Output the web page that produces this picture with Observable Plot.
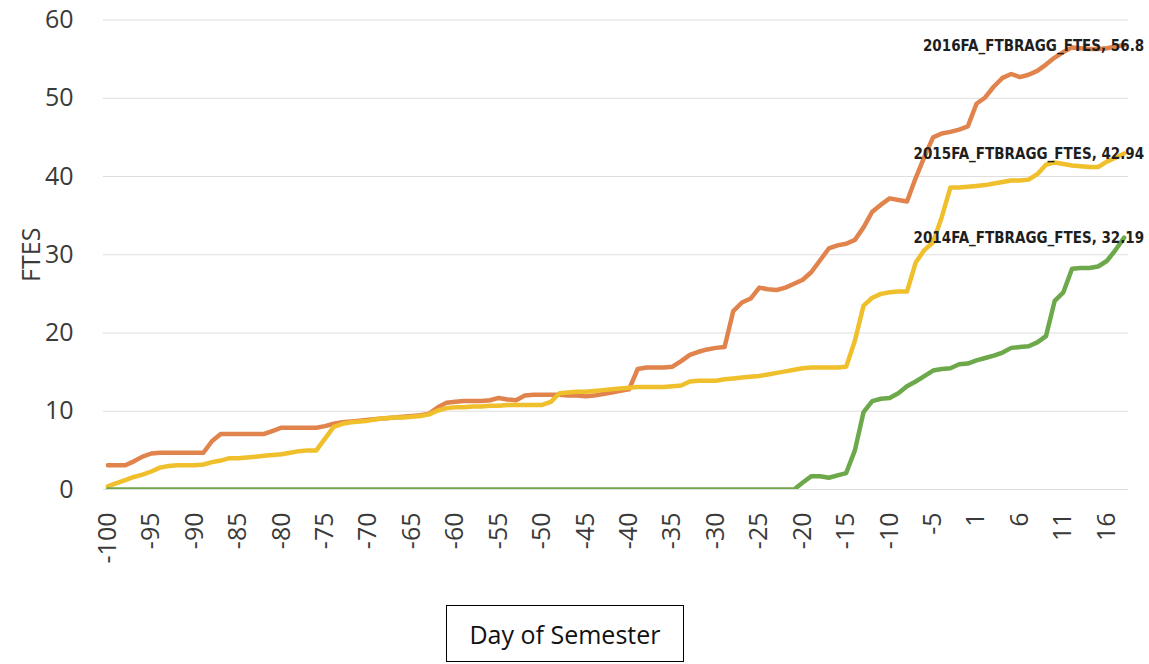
<!DOCTYPE html>
<html><head><meta charset="utf-8">
<script src="https://cdn.jsdelivr.net/npm/d3@7"></script>
<script src="https://cdn.jsdelivr.net/npm/@observablehq/plot@0.6"></script>
<style>
body{margin:0;background:#fff;font-family:"Open Sans",sans-serif;}
#chart{position:absolute;left:0;top:0;}
#box{position:absolute;left:446px;top:605px;width:236px;height:55px;border:1.5px solid #000;display:flex;align-items:center;justify-content:center;font-size:25px;color:#111;font-family:"Open Sans",sans-serif;}
</style></head><body>
<div id="chart"></div>
<div id="box">Day of Semester</div>
<script>
const days = [-100,-99,-98,-97,-96,-95,-94,-93,-92,-91,
-90,-89,-88,-87,-86,-85,-84,-83,-82,-81,
-80,-79,-78,-77,-76,-75,-74,-73,-72,-71,
-70,-69,-68,-67,-66,-65,-64,-63,-62,-61,
-60,-59,-58,-57,-56,-55,-54,-53,-52,-51,
-50,-49,-48,-47,-46,-45,-44,-43,-42,-41,
-40,-39,-38,-37,-36,-35,-34,-33,-32,-31,
-30,-29,-28,-27,-26,-25,-24,-23,-22,-21,
-20,-19,-18,-17,-16,-15,-14,-13,-12,-11,
-10,-9,-8,-7,-6,-5,-4,-3,-2,-1,
1,2,3,4,5,6,7,8,9,10,
11,12,13,14,15,16,17,18];

const fte2016 = [3.1,3.1,3.1,3.6,4.2,4.6,4.7,4.7,4.7,4.7,
4.7,4.7,6.2,7.1,7.1,7.1,7.1,7.1,7.1,7.5,
7.9,7.9,7.9,7.9,7.9,8.1,8.4,8.6,8.7,8.8,
8.9,9.0,9.1,9.2,9.3,9.4,9.5,9.7,10.5,11.1,
11.2,11.3,11.3,11.3,11.4,11.7,11.5,11.4,12.0,12.1,
12.1,12.1,12.1,12.0,12.0,11.9,12.0,12.2,12.4,12.6,
12.8,15.4,15.6,15.6,15.6,15.7,16.4,17.2,17.6,17.9,
18.1,18.2,22.8,23.9,24.4,25.8,25.6,25.5,25.8,26.3,
26.8,27.8,29.3,30.8,31.2,31.4,31.9,33.5,35.5,36.4,
37.2,37.0,36.8,39.8,42.5,45.0,45.5,45.7,46.0,46.4,
49.3,50.1,51.5,52.6,53.1,52.7,53.0,53.5,54.3,55.2,
55.9,56.5,56.4,56.3,56.3,56.4,56.6,56.8];

const fte2015 = [0.4,0.8,1.2,1.6,1.9,2.3,2.8,3.0,3.1,3.1,
3.1,3.2,3.5,3.7,4.0,4.0,4.1,4.2,4.3,4.4,
4.5,4.7,4.9,5.0,5.0,6.5,8.0,8.4,8.6,8.7,
8.8,9.0,9.1,9.2,9.2,9.3,9.4,9.6,10.1,10.4,
10.5,10.5,10.6,10.6,10.7,10.7,10.8,10.8,10.8,10.8,
10.8,11.2,12.3,12.4,12.5,12.5,12.6,12.7,12.8,12.9,
13.0,13.1,13.1,13.1,13.1,13.2,13.3,13.8,13.9,13.9,
13.9,14.1,14.2,14.3,14.4,14.5,14.7,14.9,15.1,15.3,
15.5,15.6,15.6,15.6,15.6,15.7,19.0,23.5,24.5,25.0,
25.2,25.3,25.3,29.0,30.6,31.6,34.8,38.6,38.6,38.7,
38.8,38.9,39.1,39.3,39.5,39.5,39.6,40.3,41.5,41.8,
41.6,41.4,41.3,41.2,41.2,41.9,42.4,42.94];

const fte2014 = [0,0,0,0,0,0,0,0,0,0,
0,0,0,0,0,0,0,0,0,0,
0,0,0,0,0,0,0,0,0,0,
0,0,0,0,0,0,0,0,0,0,
0,0,0,0,0,0,0,0,0,0,
0,0,0,0,0,0,0,0,0,0,
0,0,0,0,0,0,0,0,0,0,
0,0,0,0,0,0,0,0,0,0,
0.9,1.7,1.7,1.5,1.8,2.1,5.0,9.9,11.3,11.6,
11.7,12.3,13.2,13.8,14.5,15.2,15.4,15.5,16.0,16.1,
16.5,16.8,17.1,17.5,18.1,18.2,18.3,18.8,19.6,24.1,
25.2,28.2,28.3,28.3,28.5,29.2,30.6,32.19];

const seriesNames = ["2016FA_FTBRAGG_FTES","2015FA_FTBRAGG_FTES","2014FA_FTBRAGG_FTES"];
const seriesColors = ["#e0834c","#f0bf2c","#6da84a"];
const yTicks = [0,10,20,30,40,50,60];
const xTicks = [-100,-95,-90,-85,-80,-75,-70,-65,-60,-55,-50,-45,-40,-35,-30,-25,-20,-15,-10,-5,1,6,11,16];

const seriesValues = [fte2016, fte2015, fte2014];
const tables = seriesValues.map((vals, s) => days.map((d, i) => ({day: d, value: vals[i], series: seriesNames[s]})));
const lastPoints = tables.map(t => t[t.length - 1]);

const chart = Plot.plot({
  width: 1149,
  height: 600,
  marginLeft: 103,
  marginRight: 21,
  marginTop: 19.5,
  marginBottom: 111,
  style: {fontFamily: "Open Sans, sans-serif", fontSize: "25px", color: "#3a3a3a", background: "#fff", overflow: "visible"},
  x: {type: "point", domain: days, padding: 0.5},
  y: {domain: [0, 60]},
  marks: [
    Plot.gridY(yTicks, {stroke: "#dedede", strokeOpacity: 1, strokeWidth: 1}),
    Plot.axisY(yTicks, {tickSize: 0, tickPadding: 30, label: "FTES", labelAnchor: "center", labelOffset: 81, labelArrow: "none"}),
    Plot.axisX(xTicks, {tickSize: 0, tickPadding: 23, tickRotate: -90, label: null}),
    ...tables.map((t, s) => Plot.line(t, {x: "day", y: "value", stroke: seriesColors[s], strokeWidth: 4.5, strokeLinejoin: "round", strokeLinecap: "round", clip: true})),
    Plot.text(lastPoints, {x: "day", y: "value", text: d => d.series + ", " + d.value, textAnchor: "end", dx: 20, dy: 1, fontSize: 15, fontWeight: "bold", fontFamily: "DejaVu Sans Condensed, Liberation Sans, sans-serif", fill: "#1e1e1e"})
  ]
});
document.getElementById("chart").appendChild(chart);
</script>
</body></html>
